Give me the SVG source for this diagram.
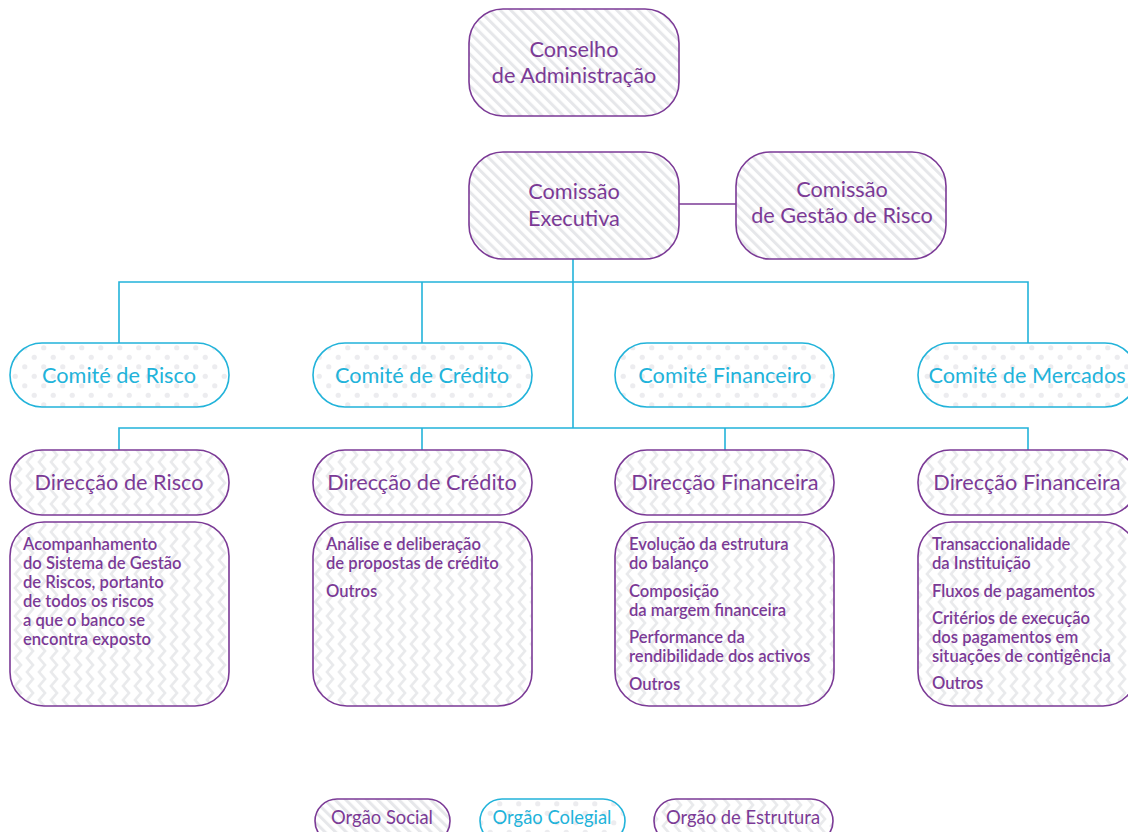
<svg xmlns="http://www.w3.org/2000/svg" width="1128" height="832" viewBox="0 0 1128 832">
<defs>
<pattern id="stripes" width="7.5" height="10" patternUnits="userSpaceOnUse" patternTransform="rotate(-45)">
<rect width="7.5" height="10" fill="#fff"/>
<line x1="1.5" y1="0" x2="1.5" y2="10" stroke="#e6e7ea" stroke-width="3"/>
</pattern>
<pattern id="dots" width="19" height="19" patternUnits="userSpaceOnUse" x="1" y="1">
<rect width="19" height="19" fill="#fff"/>
<circle cx="4.75" cy="4.75" r="2.6" fill="#ececef"/>
<circle cx="14.25" cy="14.25" r="2.6" fill="#ececef"/>
</pattern>
<pattern id="chevron" width="12" height="14" patternUnits="userSpaceOnUse">
<rect width="12" height="14" fill="#fff"/>
<path d="M9,-7 L3,0 L9,7 L3,14 L9,21" fill="none" stroke="#e9eaec" stroke-width="2.6"/>
</pattern>
<style>
.social{fill:url(#stripes);stroke:#7b3a96;stroke-width:1.6}
.colegial{fill:url(#dots);stroke:#22b3da;stroke-width:1.6}
.estrutura{fill:url(#chevron);stroke:#7b3a96;stroke-width:1.6}
.t{font-family:Lato,"Liberation Sans",sans-serif;font-size:21.7px;text-anchor:middle}
.tp{fill:#7b3a96}
.tc{fill:#22b3da}
.lg{font-size:18.4px}
.d{font-family:Lato,"Liberation Sans",sans-serif;font-size:16.6px;fill:#7b3a96;font-weight:600}
.lp{stroke:#7b3a96;stroke-width:1.6;fill:none}
.lc{stroke:#22b3da;stroke-width:1.6;fill:none}
</style>
</defs>
<rect width="1128" height="832" fill="#fff"/>

<g id="connectors">
<line class="lp" x1="679" y1="204" x2="736" y2="204"/>
<line class="lc" x1="573" y1="259" x2="573" y2="428"/>
<polyline class="lc" points="119,343 119,282 1028,282 1028,343"/>
<line class="lc" x1="422" y1="282" x2="422" y2="343"/>
<polyline class="lc" points="119,450 119,428 1028,428 1028,450"/>
<line class="lc" x1="422" y1="428" x2="422" y2="450"/>
<line class="lc" x1="725" y1="428" x2="725" y2="450"/>
</g>

<g id="conselho">
<rect class="social" x="469" y="9" width="210" height="107" rx="34"/>
<text class="t tp" x="574" y="57">Conselho</text>
<text class="t tp" x="574" y="83">de Administração</text>
</g>
<g id="comissao-executiva">
<rect class="social" x="469" y="152" width="210" height="107" rx="34"/>
<text class="t tp" x="574" y="199">Comissão</text>
<text class="t tp" x="574" y="226">Executiva</text>
</g>
<g id="comissao-gestao-risco">
<rect class="social" x="736" y="152" width="210" height="107" rx="34"/>
<text class="t tp" x="842" y="197">Comissão</text>
<text class="t tp" x="842" y="223">de Gestão de Risco</text>
</g>

<g id="comite-risco">
<rect class="colegial" x="10" y="343" width="219" height="64" rx="32"/>
<text class="t tc" x="119" y="383">Comité de Risco</text>
</g>
<g id="comite-credito">
<rect class="colegial" x="313" y="343" width="219" height="64" rx="32"/>
<text class="t tc" x="422" y="383">Comité de Crédito</text>
</g>
<g id="comite-financeiro">
<rect class="colegial" x="615" y="343" width="219" height="64" rx="32"/>
<text class="t tc" x="725" y="383">Comité Financeiro</text>
</g>
<g id="comite-mercados">
<rect class="colegial" x="918" y="343" width="219" height="64" rx="32"/>
<text class="t tc" x="1027" y="383">Comité de Mercados</text>
</g>

<g id="direccao-risco">
<rect class="estrutura" x="10" y="450" width="219" height="65" rx="32"/>
<text class="t tp" x="119" y="490">Direcção de Risco</text>
</g>
<g id="direccao-credito">
<rect class="estrutura" x="313" y="450" width="219" height="65" rx="32"/>
<text class="t tp" x="422" y="490">Direcção de Crédito</text>
</g>
<g id="direccao-financeira-1">
<rect class="estrutura" x="615" y="450" width="219" height="65" rx="32"/>
<text class="t tp" x="725" y="490">Direcção Financeira</text>
</g>
<g id="direccao-financeira-2">
<rect class="estrutura" x="918" y="450" width="219" height="65" rx="32"/>
<text class="t tp" x="1027" y="490">Direcção Financeira</text>
</g>

<g id="desc-risco">
<rect class="estrutura" x="10" y="522" width="219" height="184" rx="34"/>
<text class="d" x="23" y="550">Acompanhamento</text>
<text class="d" x="23" y="569">do Sistema de Gestão</text>
<text class="d" x="23" y="588">de Riscos, portanto</text>
<text class="d" x="23" y="607">de todos os riscos</text>
<text class="d" x="23" y="626">a que o banco se</text>
<text class="d" x="23" y="645">encontra exposto</text>
</g>
<g id="desc-credito">
<rect class="estrutura" x="313" y="522" width="219" height="184" rx="34"/>
<text class="d" x="326" y="550">Análise e deliberação</text>
<text class="d" x="326" y="569">de propostas de crédito</text>
<text class="d" x="326" y="597">Outros</text>
</g>
<g id="desc-financeira-1">
<rect class="estrutura" x="615" y="522" width="219" height="184" rx="34"/>
<text class="d" x="629" y="550">Evolução da estrutura</text>
<text class="d" x="629" y="569">do balanço</text>
<text class="d" x="629" y="597">Composição</text>
<text class="d" x="629" y="616">da margem financeira</text>
<text class="d" x="629" y="643">Performance da</text>
<text class="d" x="629" y="662">rendibilidade dos activos</text>
<text class="d" x="629" y="690">Outros</text>
</g>
<g id="desc-financeira-2">
<rect class="estrutura" x="918" y="522" width="219" height="184" rx="34"/>
<text class="d" x="932" y="550">Transaccionalidade</text>
<text class="d" x="932" y="569">da Instituição</text>
<text class="d" x="932" y="597">Fluxos de pagamentos</text>
<text class="d" x="932" y="624">Critérios de execução</text>
<text class="d" x="932" y="643">dos pagamentos em</text>
<text class="d" x="932" y="662">situações de contigência</text>
<text class="d" x="932" y="689">Outros</text>
</g>

<g id="legend-social">
<rect class="social" x="315" y="799" width="135" height="44" rx="22"/>
<text class="t tp lg" x="382" y="824">Orgão Social</text>
</g>
<g id="legend-colegial">
<rect class="colegial" x="480" y="799" width="145" height="44" rx="22"/>
<text class="t tc lg" x="552" y="824">Orgão Colegial</text>
</g>
<g id="legend-estrutura">
<rect class="estrutura" x="654" y="799" width="179" height="44" rx="22"/>
<text class="t tp lg" x="743" y="824">Orgão de Estrutura</text>
</g>
</svg>
